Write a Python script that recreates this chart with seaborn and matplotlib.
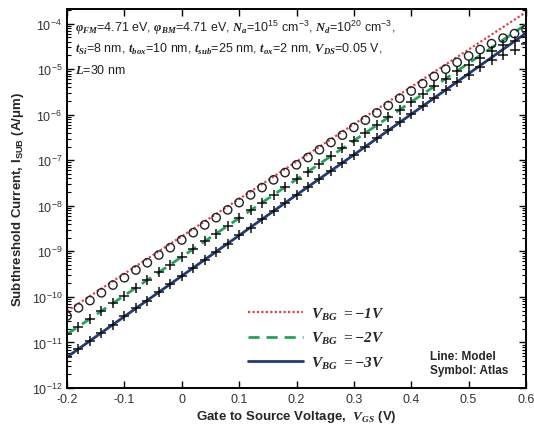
import numpy as np
import pandas as pd
import matplotlib
matplotlib.use("Agg")
import matplotlib.pyplot as plt
from matplotlib.lines import Line2D
from matplotlib.ticker import LogLocator, LogFormatterMathtext, NullLocator
import seaborn as sns

# ---------------- data (log10 of current, A/um) ----------------
vgs_model = [-0.2, -0.1, 0.0, 0.1, 0.2, 0.3, 0.4, 0.5, 0.6]
log_model_bg1 = [-10.31, -9.49, -8.67, -7.85, -7.03, -6.21, -5.39, -4.57, -3.75]
log_model_bg2 = [-10.82, -9.97, -9.12, -8.27, -7.42, -6.57, -5.72, -4.87, -4.02]
log_model_bg3 = [-11.32, -10.43, -9.54, -8.65, -7.76, -6.88, -5.99, -5.10, -4.21]

vgs_atlas = [-0.20, -0.18, -0.16, -0.14, -0.12, -0.10, -0.08, -0.06, -0.04, -0.02,
             0.00, 0.02, 0.04, 0.06, 0.08, 0.10, 0.12, 0.14, 0.16, 0.18,
             0.20, 0.22, 0.24, 0.26, 0.28, 0.30, 0.32, 0.34, 0.36, 0.38,
             0.40, 0.42, 0.44, 0.46, 0.48, 0.50, 0.52, 0.54, 0.56, 0.58, 0.60]
log_atlas_bg1 = [-10.42, -10.24, -10.08, -9.91, -9.74, -9.58, -9.41, -9.25, -9.08, -8.92,
                 -8.75, -8.59, -8.42, -8.26, -8.09, -7.93, -7.76, -7.60, -7.43, -7.27,
                 -7.10, -6.94, -6.77, -6.61, -6.45, -6.28, -6.12, -5.96, -5.80, -5.64,
                 -5.48, -5.32, -5.16, -5.00, -4.85, -4.71, -4.57, -4.44, -4.32, -4.22, -4.13]
log_atlas_bg2 = [-10.82, -10.65, -10.48, -10.31, -10.14, -9.97, -9.80, -9.63, -9.46, -9.29,
                 -9.12, -8.95, -8.78, -8.61, -8.44, -8.27, -8.10, -7.93, -7.76, -7.59,
                 -7.42, -7.25, -7.08, -6.91, -6.74, -6.57, -6.40, -6.23, -6.06, -5.89,
                 -5.72, -5.55, -5.38, -5.21, -5.04, -4.90, -4.75, -4.61, -4.48, -4.38, -4.30]
log_atlas_bg3 = [-11.32, -11.14, -10.96, -10.79, -10.61, -10.43, -10.25, -10.08, -9.90, -9.72,
                 -9.54, -9.36, -9.19, -9.01, -8.83, -8.65, -8.48, -8.30, -8.12, -7.94,
                 -7.76, -7.59, -7.41, -7.23, -7.05, -6.88, -6.70, -6.52, -6.34, -6.16,
                 -5.99, -5.81, -5.63, -5.45, -5.28, -5.12, -4.96, -4.81, -4.68, -4.58, -4.45]

legend_labels = [r"$\mathbfit{V}_{\mathbfit{BG}}$ $\mathbfit{=-1V}$",
                 r"$\mathbfit{V}_{\mathbfit{BG}}$ $\mathbfit{=-2V}$",
                 r"$\mathbfit{V}_{\mathbfit{BG}}$ $\mathbfit{=-3V}$"]
x_ticks = [-0.2, -0.1, 0, 0.1, 0.2, 0.3, 0.4, 0.5, 0.6]
x_tick_labels = ["-0.2", "-0.1", "0", "0.1", "0.2", "0.3", "0.4", "0.5", "0.6"]

# ---------------- style ----------------
sns.set_style("ticks")
plt.rcParams.update({
    "font.family": ["Liberation Sans", "DejaVu Sans"],
    "mathtext.fontset": "custom",
    "mathtext.rm": "Liberation Sans",
    "mathtext.it": "Liberation Sans:italic",
    "mathtext.bf": "Liberation Sans:bold",
    "mathtext.bfit": "Liberation Serif:italic:bold",
    "mathtext.default": "regular",
})

c_red = "#e0404e"
c_green = "#23a35a"
c_blue = "#1f3a78"

fig = plt.figure(figsize=(5.34, 4.31), dpi=100)
ax = fig.add_axes([0.1255, 0.0974, 0.8595, 0.8794])
ax.set_yscale("log")

vm = np.array(vgs_model)
sns.lineplot(x=vm, y=10 ** np.array(log_model_bg1), color=c_red, linestyle=(0, (1, 1)),
             linewidth=1.6, ax=ax, zorder=2)
sns.lineplot(x=vm, y=10 ** np.array(log_model_bg2), color=c_green, linestyle=(0, (4, 2.5)),
             linewidth=2.0, ax=ax, zorder=2)
sns.lineplot(x=vm, y=10 ** np.array(log_model_bg3), color=c_blue, linestyle="-",
             linewidth=2.0, ax=ax, zorder=2)

va = np.array(vgs_atlas)
sns.scatterplot(x=va, y=10 ** np.array(log_atlas_bg1), marker="o", s=36,
                facecolors="none", edgecolor="#222222", linewidth=1.0, ax=ax, zorder=3)
sns.scatterplot(x=va, y=10 ** np.array(log_atlas_bg2), marker="+", s=60,
                color="#111111", linewidth=1.1, ax=ax, zorder=3)
sns.scatterplot(x=va, y=10 ** np.array(log_atlas_bg3), marker="+", s=60,
                color="#111111", linewidth=1.1, ax=ax, zorder=3)

ax.set_xlim(-0.2, 0.6)
ax.set_ylim(1e-12, 10 ** -3.68)
ax.set_xticks(x_ticks)
ax.set_xticklabels(x_tick_labels)
ax.xaxis.set_minor_locator(NullLocator())
ax.yaxis.set_major_locator(LogLocator(base=10, numticks=20))
ax.yaxis.set_major_formatter(LogFormatterMathtext())
ax.yaxis.set_minor_locator(LogLocator(base=10, subs=np.arange(2, 10), numticks=100))
ax.tick_params(which="both", direction="in", top=True, right=True, colors="black",
               labelsize=9, labelcolor="#333333")
ax.tick_params(which="major", length=5, width=1)
ax.tick_params(which="minor", length=3, width=0.8)
for sp in ax.spines.values():
    sp.set_linewidth(1.4)
    sp.set_color("black")

ax.set_xlabel(r"Gate to Source Voltage,  $\mathbfit{V}_{\mathbfit{GS}}$ (V)",
              fontsize=9.5, fontweight="bold", labelpad=2)
ax.set_ylabel(r"Subthreshold Current, I$_{\mathbf{SUB}}$ (A/$\mathbf{\mu}$m)",
              fontsize=9.5, fontweight="bold", labelpad=4)

handles = [Line2D([], [], color=c_red, linestyle=(0, (1, 1)), linewidth=1.6),
           Line2D([], [], color=c_green, linestyle=(0, (4, 2.5)), linewidth=2.0),
           Line2D([], [], color=c_blue, linestyle="-", linewidth=2.0)]
ax.legend(handles=handles, labels=legend_labels, loc="upper left",
          bbox_to_anchor=(0.365, 0.255), frameon=False, fontsize=11,
          handlelength=3.6, handletextpad=0.5, labelspacing=0.55)

ax.text(0.79, 0.085, "Line: Model", transform=ax.transAxes, fontsize=8.5,
        fontweight="bold", va="center", ha="left")
ax.text(0.79, 0.048, "Symbol: Atlas", transform=ax.transAxes, fontsize=8.5,
        fontweight="bold", va="center", ha="left")

line1 = (r"$\mathbfit{φ}_{\mathbfit{FM}}$=4.71 eV, $\mathbfit{φ}_{\mathbfit{BM}}$=4.71 eV, "
         r"$\mathbfit{N}_{\mathbfit{a}}$=10$^{15}$ cm$^{-3}$, $\mathbfit{N}_{\mathbfit{d}}$=10$^{20}$ cm$^{-3}$,")
line2 = (r"$\mathbfit{t}_{\mathbfit{Si}}$=8 nm, $\mathbfit{t}_{\mathbfit{box}}$=10 nm, "
         r"$\mathbfit{t}_{\mathbfit{sub}}$=25 nm, $\mathbfit{t}_{\mathbfit{ox}}$=2 nm, "
         r"$\mathbfit{V}_{\mathbfit{DS}}$=0.05 V,")
line3 = r"$\mathbfit{L}$=30 nm"
for txt, yy in [(line1, 0.952), (line2, 0.896), (line3, 0.84)]:
    ax.text(0.017, yy, txt, transform=ax.transAxes, fontsize=9, va="center", ha="left",
            color="#222222")

fig.savefig("out.png", dpi=100)
